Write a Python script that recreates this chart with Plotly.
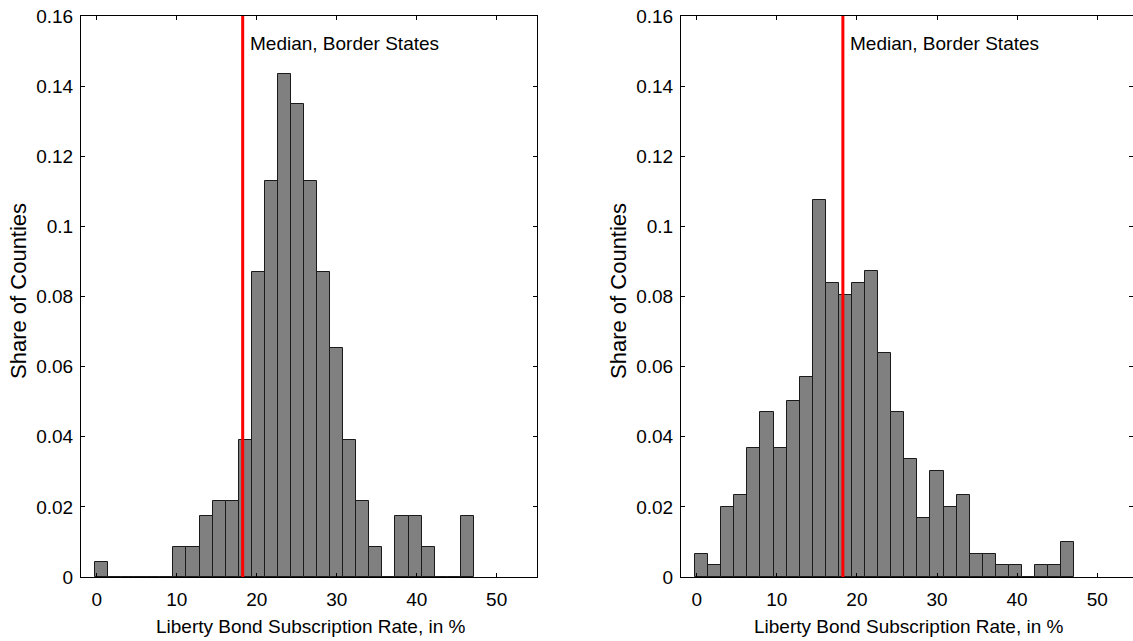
import plotly.graph_objects as go

# Histogram bins (shared by both panels)
bin_start = -0.21
bin_width = 1.633
n_bins = 29

# Share of counties per bin (left panel)
left_shares = [0.0043, 0, 0, 0, 0, 0, 0.0087, 0.0087, 0.0174, 0.0217, 0.0217,
               0.0391, 0.0870, 0.1130, 0.1435, 0.1348, 0.1130, 0.0870, 0.0652,
               0.0391, 0.0217, 0.0087, 0, 0.0174, 0.0174, 0.0087, 0, 0, 0.0174]

# Share of counties per bin (right panel)
right_shares = [0.0067, 0.0034, 0.0201, 0.0235, 0.0369, 0.0470, 0.0369, 0.0503,
                0.0570, 0.1074, 0.0839, 0.0805, 0.0839, 0.0872, 0.0638, 0.0470,
                0.0336, 0.0168, 0.0302, 0.0201, 0.0235, 0.0067, 0.0067, 0.0034,
                0.0034, 0, 0.0034, 0.0034, 0.0101]

median_border = 18.25
median_label = "Median, Border States"
x_title = "Liberty Bond Subscription Rate, in %"
y_title = "Share of Counties"
x_ticks = [0, 10, 20, 30, 40, 50]
y_ticks = [0, 0.02, 0.04, 0.06, 0.08, 0.10, 0.12, 0.14, 0.16]
y_ticktext = ["0", "0.02", "0.04", "0.06", "0.08", "0.1", "0.12", "0.14", "0.16"]

centers = [bin_start + (i + 0.5) * bin_width for i in range(n_bins)]

W, H = 1133, 641
FONT = "Liberation Sans, Arial, sans-serif"
FS = 19

fig = go.Figure()

panels = [
    dict(shares=left_shares, xa="x", ya="y", dom=(81, 537), xr=(-1.9625, 55.04), ytitle_x=18),
    dict(shares=right_shares, xa="x2", ya="y2", dom=(681, 1133), xr=(-1.96, 54.47), ytitle_x=618),
]

for p in panels:
    fig.add_trace(go.Bar(
        x=centers, y=p["shares"], width=bin_width,
        marker=dict(color="#808080", line=dict(color="#1a1a1a", width=1)),
        xaxis=p["xa"], yaxis=p["ya"], showlegend=False, hoverinfo="skip",
    ))
    fig.add_trace(go.Scatter(
        x=[median_border, median_border], y=[0, 0.16], mode="lines",
        line=dict(color="#ff0000", width=3),
        xaxis=p["xa"], yaxis=p["ya"], showlegend=False, hoverinfo="skip",
    ))
    fig.add_annotation(
        x=median_border, y=0.1523, xref=p["xa"], yref=p["ya"],
        text=median_label, showarrow=False, xanchor="left", yanchor="middle",
        xshift=5, font=dict(family=FONT, size=FS, color="black"),
    )
    cx = (p["dom"][0] + p["dom"][1] + 4) / 2
    fig.add_annotation(
        x=cx / W, y=1 - 626 / H, xref="paper", yref="paper",
        text=x_title, showarrow=False, xanchor="center", yanchor="middle",
        font=dict(family=FONT, size=FS, color="black"),
    )
    fig.add_annotation(
        x=p["ytitle_x"] / W, y=1 - 291 / H, xref="paper", yref="paper",
        text=y_title, showarrow=False, xanchor="center", yanchor="middle",
        textangle=-90, font=dict(family=FONT, size=22, color="black"),
    )

axis_common = dict(
    showline=True, linecolor="black", linewidth=1, mirror="allticks",
    ticks="inside", ticklen=4, tickcolor="black", tickwidth=1,
    showgrid=False, zeroline=False, automargin=False,
    tickfont=dict(family=FONT, size=FS, color="black"),
)

layout_axes = {}
for i, p in enumerate(panels):
    suffix = "" if i == 0 else "2"
    layout_axes["xaxis" + suffix] = dict(
        axis_common, domain=[p["dom"][0] / W, p["dom"][1] / W], range=list(p["xr"]),
        tickvals=x_ticks, anchor="y" + suffix, ticklabelstandoff=5,
    )
    layout_axes["yaxis" + suffix] = dict(
        axis_common, domain=[(H - 577) / H, (H - 16) / H], range=[0, 0.16],
        tickvals=y_ticks, ticktext=y_ticktext, anchor="x" + suffix, ticklabelstandoff=3,
    )

fig.update_layout(
    template="none",
    width=W, height=H,
    margin=dict(l=0, r=0, t=0, b=0, autoexpand=False),
    paper_bgcolor="white", plot_bgcolor="white",
    bargap=0, showlegend=False,
    **layout_axes,
)

fig.write_html(
    "out.html",
    config={"displayModeBar": False},
    post_script="document.body.style.margin='0';document.body.style.overflow='hidden';",
)
